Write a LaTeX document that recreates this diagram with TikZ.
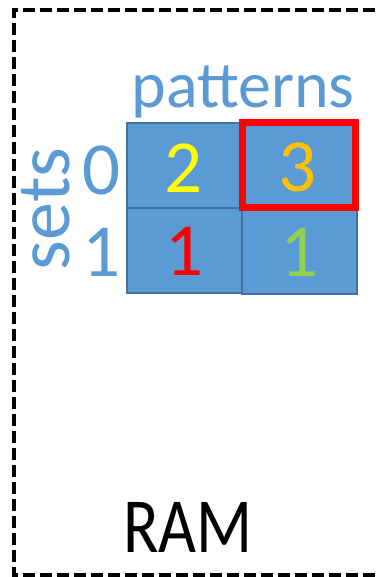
\documentclass[tikz,border=0pt]{standalone}
\usepackage{fontspec}
\setmainfont{Carlito}
\definecolor{cellblue}{HTML}{5B9BD5}
\definecolor{cellborder}{HTML}{41719C}
\definecolor{lblblue}{HTML}{5B9BD5}
\definecolor{dyellow}{HTML}{FFFF00}
\definecolor{dorange}{HTML}{FFC000}
\definecolor{dred}{HTML}{FF0000}
\definecolor{dgreen}{HTML}{92D050}
\tikzset{
  cell/.style={draw=cellborder, fill=cellblue, line width=2pt, inner sep=0pt, minimum height=85pt},
  digit/.style={inner sep=0pt, font=\fontsize{75}{75}\selectfont},
  lbl/.style={inner sep=0pt, text=lblblue},
  hilite/.style={draw=dred, line width=7pt},
  ramframe/.style={draw=black, line width=4pt, dash pattern=on 12pt off 5pt}
}
\begin{document}
\begin{tikzpicture}[x=1pt,y=1pt]
\useasboundingbox (0,0) rectangle (378,-577);
% dashed frame (right side runs past the picture edge)
\draw[ramframe] (392,-10) -- (14,-10) -- (14,-575) -- (392,-575);
% labels
\node[lbl, anchor=base, font=\fontsize{66}{66}\selectfont] (pat) at (243,-108) {patterns};
\node[lbl, anchor=base, rotate=90, font=\fontsize{76}{76}\selectfont] (sets) at (69,-209) {sets};
\node[lbl, anchor=east, font=\fontsize{75}{75}\selectfont] (r0) at (121,-170) {0};
\node[lbl, anchor=east, font=\fontsize{75}{75}\selectfont] (r1) at (121,-252) {1};
% cells
\node[cell, minimum width=113pt] (c00) at (183.5,-165.5) {};
\node[cell, minimum width=116pt] (c01) at (298,-165.5) {};
\node[cell, minimum width=115pt] (c10) at (184.5,-250.5) {};
\node[cell, minimum width=115pt, minimum height=84pt] (c11) at (299.5,-252) {};
% highlight on set 0, pattern 1
\draw[hilite] (242.5,-122.5) rectangle (355.5,-207.5);
% counts
\node[digit, text=dyellow] (d00) at ([yshift=-3pt]c00.center) {2};
\node[digit, text=dorange] (d01) at ([yshift=-2pt]c01.center) {3};
\node[digit, text=dred] (d10) at ([yshift=-1pt]c10.center) {1};
\node[digit, text=dgreen] (d11) at ([yshift=0pt]c11.center) {1};
% RAM label
\node[inner sep=0pt, anchor=base, xscale=0.84, font=\fontsize{78}{78}\selectfont] (ram) at (188,-552) {RAM};
\end{tikzpicture}
\end{document}
